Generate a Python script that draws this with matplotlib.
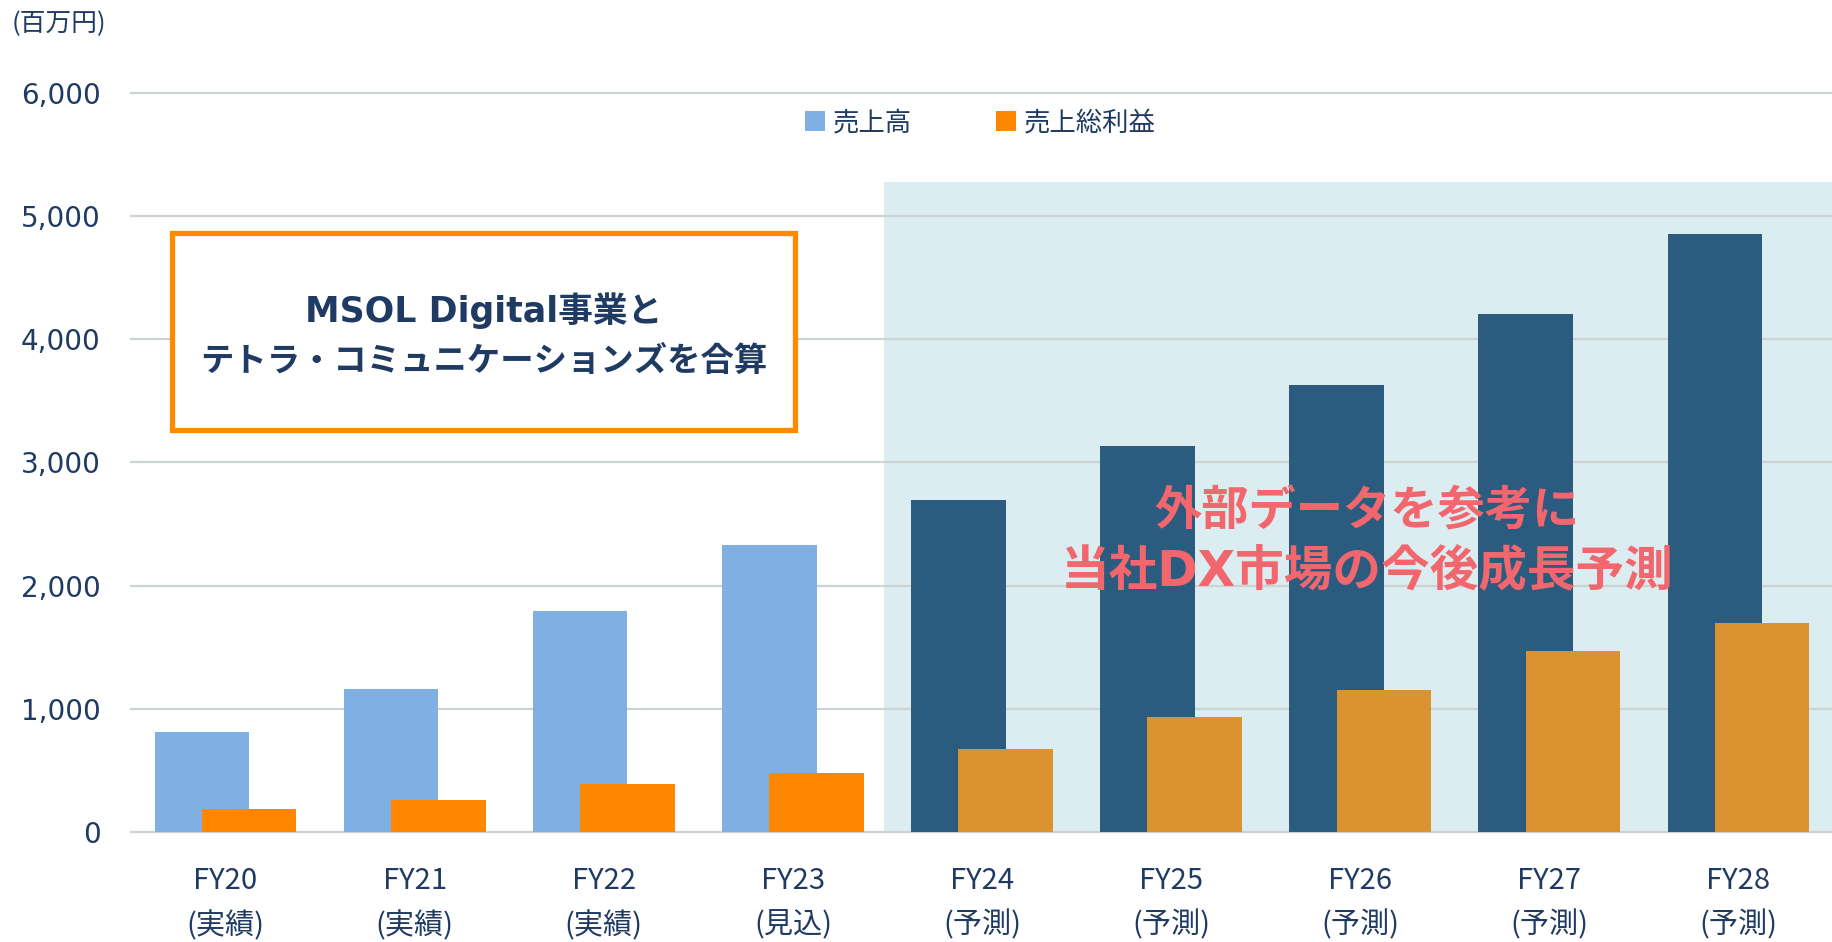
import matplotlib.pyplot as plt
from matplotlib.patches import Rectangle
from matplotlib.ticker import FuncFormatter

plt.rcParams['font.family'] = ['Noto Sans CJK JP', 'DejaVu Sans']

years = ['FY20', 'FY21', 'FY22', 'FY23', 'FY24', 'FY25', 'FY26', 'FY27', 'FY28']
kinds = ['(実績)', '(実績)', '(実績)', '(見込)', '(予測)', '(予測)', '(予測)', '(予測)', '(予測)']
sales = [808, 1163, 1791, 2333, 2694, 3132, 3626, 4206, 4860]
gross = [187, 260, 384, 479, 669, 935, 1153, 1467, 1695]

navy = '#1F3B63'
blue_c = ['#7FAFE3'] * 4 + ['#2B5C7F'] * 5
orange_c = ['#FF8600'] * 4 + ['#DA9330'] * 5
latin_first = ['DejaVu Sans', 'Noto Sans CJK JP']

fig = plt.figure(figsize=(18.33, 9.42), dpi=100)
ax = fig.add_axes([131 / 1833, 0.1171, 1 - 131 / 1833, 0.7839])

x = list(range(len(years)))
# forecast band
ax.add_patch(Rectangle((3.48, 0), 5.1, 5280, color='#DBEDF0', zorder=0, lw=0))

for v in range(0, 7000, 1000):
    ax.axhline(v, color='#CDD3D5', lw=1.6, zorder=0.5, clip_on=False)

b1 = ax.bar([i - 0.125 for i in x], sales, width=0.5, color=blue_c, zorder=2, label='売上高')
b2 = ax.bar([i + 0.125 for i in x], gross, width=0.5, color=orange_c, zorder=3, label='売上総利益')

ax.set_xlim(-0.5, 8.5)
ax.set_ylim(0, 6000)
ax.set_yticks(range(0, 7000, 1000))
ax.yaxis.set_major_formatter(FuncFormatter(lambda v, p: f'{int(v):,}'))
for t in ax.get_yticklabels():
    t.set_fontfamily('DejaVu Sans')
ax.tick_params(axis='y', length=0, pad=22, labelsize=20, labelcolor=navy)

ax.set_xticks(x)
ax.set_xticklabels([f'{a}\n{b}' for a, b in zip(years, kinds)], linespacing=1.6)
ax.tick_params(axis='x', length=0, pad=25, labelsize=21, labelcolor=navy)

for s in ax.spines.values():
    s.set_visible(False)

leg = ax.legend(handles=[b1, b2], loc='center', bbox_to_anchor=(0.499, 0.96), ncol=2,
                frameon=False, fontsize=19, handlelength=0.75, handleheight=0.75,
                handletextpad=0.3, columnspacing=3.2, labelcolor=navy)

# note box
ax.add_patch(Rectangle((-0.283, 3265), 3.294, 1600, facecolor='white',
                       edgecolor='#FF8A00', lw=3.8, zorder=4))
ax.text(1.364, 4231, 'MSOL Digital事業と', ha='center', va='center', fontsize=25,
        fontweight='bold', color=navy, zorder=5, family=latin_first)
ax.text(1.364, 3825, 'テトラ・コミュニケーションズを合算', ha='center', va='center', fontsize=24,
        fontweight='bold', color=navy, zorder=5)

ax.text(6.036, 2605, '外部データを参考に', ha='center', va='center', fontsize=34,
        fontweight='bold', color='#F1676D', zorder=5)
ax.text(6.036, 2110, '当社DX市場の今後成長予測', ha='center', va='center', fontsize=35,
        fontweight='bold', color='#F1676D', zorder=5, family=latin_first)

fig.text(12 / 1833, 1 - 24 / 942, '(百万円)', ha='left', va='center', fontsize=18.5, color=navy)

fig.savefig('out.png', dpi=100)
